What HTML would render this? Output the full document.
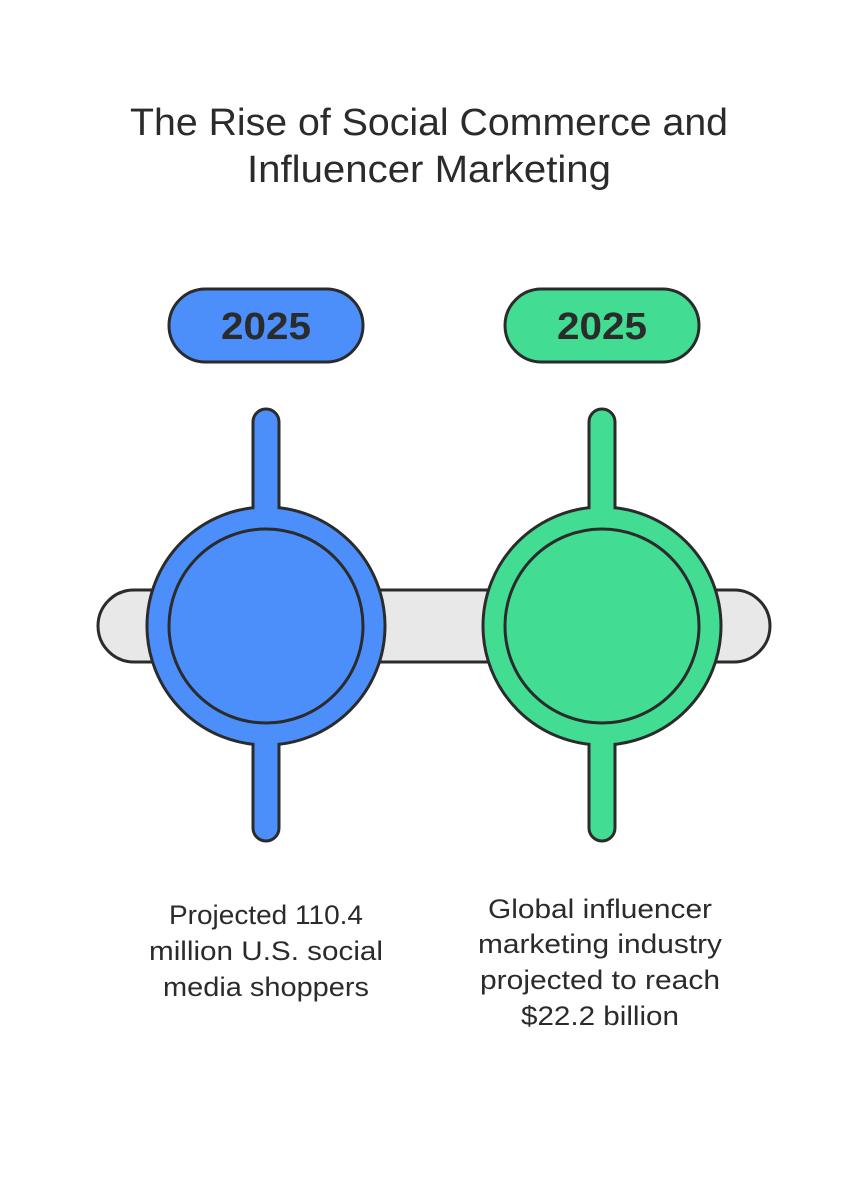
<!DOCTYPE html>
<html><head><meta charset="utf-8"><style>
html,body{margin:0;padding:0;background:#fff;}
svg{display:block;}
text{font-family:"Liberation Sans",Roboto,sans-serif;fill:#2b2b2b;}
</style></head><body>
<svg width="868" height="1180" viewBox="0 0 868 1180" xmlns="http://www.w3.org/2000/svg">
<text x="429" y="135" font-size="38" text-anchor="middle" textLength="598" lengthAdjust="spacingAndGlyphs">The Rise of Social Commerce and</text>
<text x="429" y="182" font-size="38" text-anchor="middle" textLength="364" lengthAdjust="spacingAndGlyphs">Influencer Marketing</text>

<rect x="98" y="590" width="672" height="72" rx="36" fill="#e8e8e8" stroke="#2b2b2b" stroke-width="3"/>

<g stroke="#2b2b2b" stroke-width="3">
<rect x="169" y="289" width="194" height="73" rx="36.5" fill="#4c8ffa"/>
<rect x="253" y="409" width="26" height="432" rx="13" fill="#4c8ffa"/>
<circle cx="266" cy="626" r="119" fill="#4c8ffa"/>
<circle cx="266" cy="626" r="97" fill="#4c8ffa"/>
<rect x="505" y="289" width="194" height="73" rx="36.5" fill="#42dd92"/>
<rect x="589" y="409" width="26" height="432" rx="13" fill="#42dd92"/>
<circle cx="602" cy="626" r="119" fill="#42dd92"/>
<circle cx="602" cy="626" r="97" fill="#42dd92"/>
</g>
<rect x="254.5" y="500" width="23" height="20" fill="#4c8ffa"/>
<rect x="254.5" y="732" width="23" height="20" fill="#4c8ffa"/>
<rect x="590.5" y="500" width="23" height="20" fill="#42dd92"/>
<rect x="590.5" y="732" width="23" height="20" fill="#42dd92"/>

<text x="266" y="339" font-size="38" font-weight="bold" text-anchor="middle" textLength="90" lengthAdjust="spacingAndGlyphs">2025</text>
<text x="602" y="339" font-size="38" font-weight="bold" text-anchor="middle" textLength="90" lengthAdjust="spacingAndGlyphs">2025</text>

<g font-size="27" text-anchor="middle">
<text x="266" y="924" textLength="194" lengthAdjust="spacingAndGlyphs">Projected 110.4</text>
<text x="266" y="960" textLength="234" lengthAdjust="spacingAndGlyphs">million U.S. social</text>
<text x="266" y="996" textLength="206" lengthAdjust="spacingAndGlyphs">media shoppers</text>
<text x="600" y="918" textLength="224" lengthAdjust="spacingAndGlyphs">Global influencer</text>
<text x="600" y="953" textLength="244" lengthAdjust="spacingAndGlyphs">marketing industry</text>
<text x="600" y="989" textLength="240" lengthAdjust="spacingAndGlyphs">projected to reach</text>
<text x="600" y="1025" textLength="158" lengthAdjust="spacingAndGlyphs">$22.2 billion</text>
</g>
</svg>
</body></html>
